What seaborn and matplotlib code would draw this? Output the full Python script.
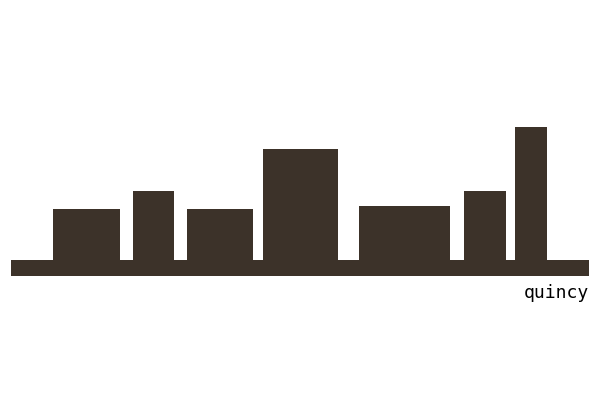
import matplotlib
matplotlib.use("Agg")
import matplotlib.pyplot as plt
import seaborn as sns

# skyline: left edge, width, height of each building (above the ground line)
left = [53, 133, 187, 263, 359, 464, 515]
width = [67, 41, 66, 75, 91, 42, 32]
height = [51, 69, 51, 111, 54, 69, 133]
label = "quincy"

ink = "#3c3229"

sns.set_theme(style="white")
fig = plt.figure(figsize=(6, 4.2), dpi=100)
ax = fig.add_axes([0, 0, 1, 1])

# ground band
ax.bar(11, -16, width=578, bottom=0, align="edge", color=ink, linewidth=0)
# buildings
ax.bar(left, height, width=width, bottom=0, align="edge", color=ink, linewidth=0)

ax.text(589, -24, label, ha="right", va="top", fontsize=13, fontweight="normal",
        family="DejaVu Sans Mono", color="black")

ax.set_xlim(0, 600)
ax.set_ylim(-160, 260)
ax.axis("off")
fig.savefig("out.png", dpi=100)
